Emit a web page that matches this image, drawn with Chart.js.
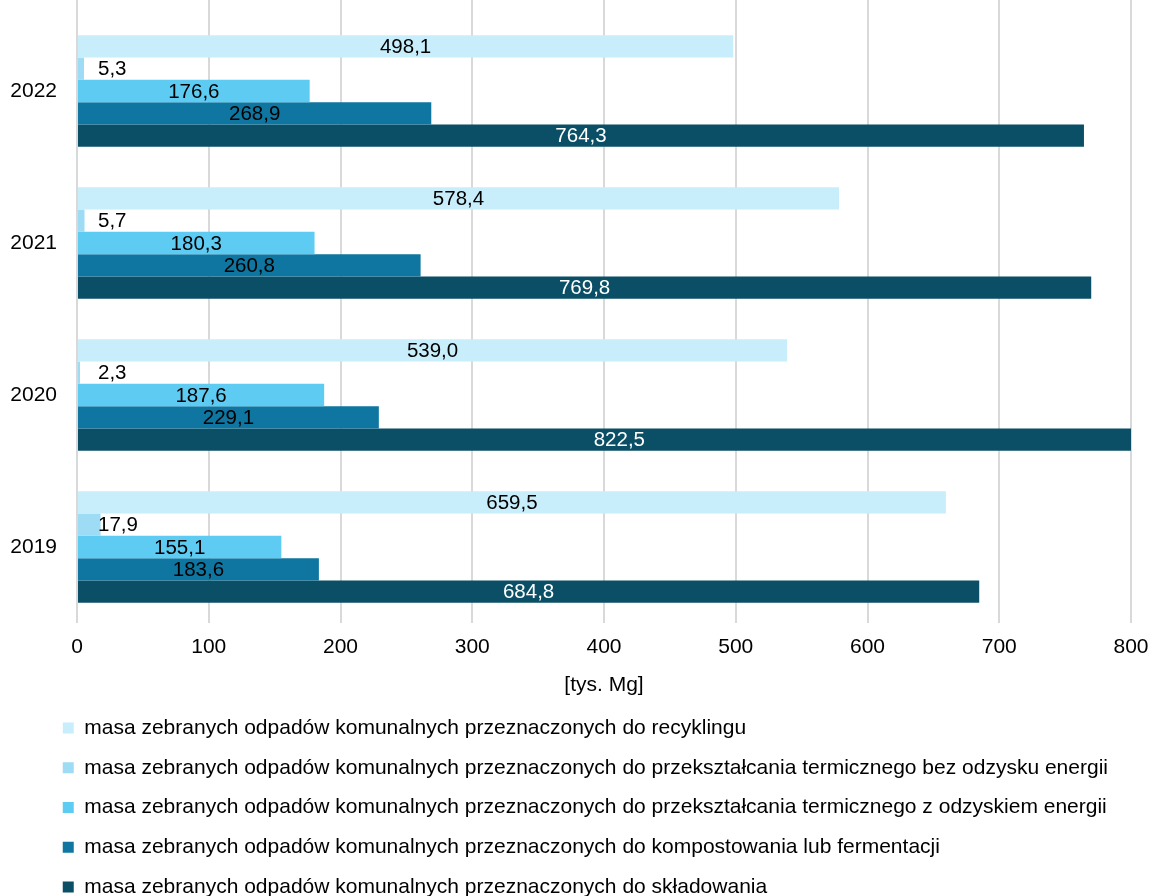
<!DOCTYPE html>
<html>
<head>
<meta charset="utf-8">
<script src="https://cdn.jsdelivr.net/npm/chart.js@4.4.1/dist/chart.umd.min.js"></script>
<style>
  html, body { margin: 0; padding: 0; background: #fff; }
  #wrap { width: 1151px; height: 896px; position: relative; }
</style>
</head>
<body>
<div id="wrap"><canvas id="c"></canvas></div>
<script>
const categories = ['2022', '2021', '2020', '2019'];
const seriesNames = [
  'masa zebranych odpadów komunalnych przeznaczonych do recyklingu',
  'masa zebranych odpadów komunalnych przeznaczonych do przekształcania termicznego bez odzysku energii',
  'masa zebranych odpadów komunalnych przeznaczonych do przekształcania termicznego z odzyskiem energii',
  'masa zebranych odpadów komunalnych przeznaczonych do kompostowania lub fermentacji',
  'masa zebranych odpadów komunalnych przeznaczonych do składowania'
];
const recykling = [498.1, 578.4, 539.0, 659.5];
const termiczneBezOdzysku = [5.3, 5.7, 2.3, 17.9];
const termiczneZOdzyskiem = [176.6, 180.3, 187.6, 155.1];
const kompostowanie = [268.9, 260.8, 229.1, 183.6];
const skladowanie = [764.3, 769.8, 822.5, 684.8];
const xTicks = [0, 100, 200, 300, 400, 500, 600, 700, 800];
const axisTitle = '[tys. Mg]';

const colors = ['#c9eefb', '#9edcf5', '#5ecbf3', '#0e76a0', '#0b4f66'];
const labelColors = ['#000', '#000', '#000', '#000', '#fff'];
const FONT = 'Liberation Sans, Arial, sans-serif';

const fmt = v => v.toFixed(1).replace('.', ',');

const valueLabels = {
  id: 'valueLabels',
  afterDatasetsDraw(chart) {
    const ctx = chart.ctx;
    const area = chart.chartArea;
    ctx.save();
    ctx.font = '20.5px ' + FONT;
    ctx.textBaseline = 'middle';
    ctx.textAlign = 'left';
    chart.data.datasets.forEach((ds, di) => {
      const meta = chart.getDatasetMeta(di);
      meta.data.forEach((bar, i) => {
        const txt = fmt(ds.data[i]);
        const w = ctx.measureText(txt).width;
        const center = (bar.x + bar.base) / 2;
        const left = Math.max(center - w / 2, area.left + 21);
        ctx.fillStyle = labelColors[di];
        ctx.fillText(txt, left, bar.y + 1);
      });
    });
    ctx.restore();
  }
};

const gridTop = {
  id: 'gridTop',
  beforeDatasetsDraw(chart) {
    const ctx = chart.ctx;
    const xs = chart.scales.x;
    ctx.save();
    ctx.strokeStyle = '#d9d9d9';
    ctx.lineWidth = 2;
    xs.ticks.forEach(t => {
      const px = Math.round(xs.getPixelForValue(t.value));
      ctx.beginPath();
      ctx.moveTo(px, 0);
      ctx.lineTo(px, chart.chartArea.top);
      ctx.stroke();
    });
    ctx.restore();
  }
};

const legendShift = {
  id: 'legendShift',
  afterLayout(chart) {
    if (chart.legend) {
      chart.legend.left += 44;
      chart.legend.right += 44;
    }
  }
};

const datasets = [recykling, termiczneBezOdzysku, termiczneZOdzyskiem, kompostowanie, skladowanie]
  .map((d, i) => ({
    label: seriesNames[i],
    data: d,
    backgroundColor: colors[i],
    borderWidth: 0,
    categoryPercentage: 0.735,
    barPercentage: 1.0
  }));

new Chart(document.getElementById('c'), {
  type: 'bar',
  data: { labels: categories, datasets },
  plugins: [valueLabels, gridTop, legendShift],
  options: {
    indexAxis: 'y',
    responsive: true,
    maintainAspectRatio: false,
    animation: false,
    layout: { padding: { top: 15, left: 0, right: 0, bottom: -11.5 } },
    scales: {
      x: {
        min: 0, max: 800,
        afterBuildTicks(scale) { scale.ticks = xTicks.map(v => ({ value: v })); },
        afterFit(scale) { scale.paddingRight = 20; scale.paddingLeft = 0; },
        grid: { color: '#d9d9d9', lineWidth: 2, drawTicks: false },
        border: { display: false },
        ticks: { color: '#000', font: { family: FONT, size: 21 }, padding: 12 },
        title: { display: true, text: axisTitle, color: '#000', font: { family: FONT, size: 21 }, padding: { top: 0, bottom: 1.35 } }
      },
      y: {
        grid: { display: false, drawTicks: false },
        border: { display: false },
        ticks: { color: '#000', font: { family: FONT, size: 21 }, padding: 20 },
        afterFit(scale) { scale.width = 77; scale.paddingTop = 0; scale.paddingBottom = 0; }
      }
    },
    plugins: {
      legend: {
        position: 'bottom',
        align: 'start',
        labels: {
          color: '#000',
          font: { family: FONT, size: 21 },
          boxWidth: 11,
          boxHeight: 11,
          padding: 18.75
        }
      },
      tooltip: { enabled: false }
    }
  }
});
</script>
</body>
</html>
